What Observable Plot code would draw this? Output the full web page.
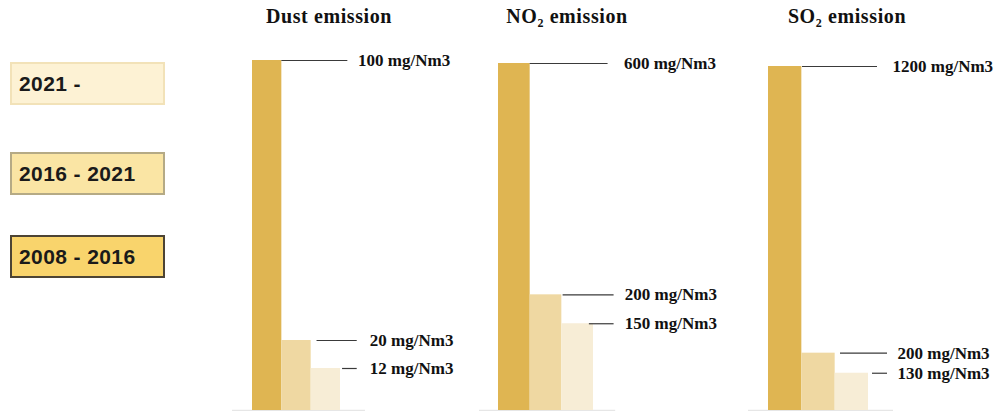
<!DOCTYPE html>
<html>
<head>
<meta charset="utf-8">
<script src="https://cdn.jsdelivr.net/npm/d3@7"></script>
<script src="https://cdn.jsdelivr.net/npm/@observablehq/plot@0.6"></script>
<style>
  html, body { margin: 0; padding: 0; background: #fff; }
  #root { position: relative; width: 999px; height: 411px; overflow: hidden; }
  .legend-box { position: absolute; left: 10px; width: 155px; box-sizing: border-box;
    font-family: "Liberation Sans", Arial, sans-serif; font-weight: bold; font-size: 21px;
    color: #1a1a1a; display: flex; align-items: center; padding-left: 7px; letter-spacing: 0.4px; }
  .title { position: absolute; top: 5px; font-family: "Liberation Serif", "Times New Roman", serif;
    font-weight: bold; font-size: 20px; color: #111; letter-spacing: 0.6px; transform: translateX(-50%); white-space: nowrap; }
  .title sub { font-size: 12px; vertical-align: -4px; }
</style>
</head>
<body>
<div id="root"></div>
<script>
// ---- data ----
const periods = ["2008 - 2016", "2016 - 2021", "2021 -"];
const legendOrder = ["2021 -", "2016 - 2021", "2008 - 2016"];
const pollutants = ["Dust", "NO2", "SO2"];
const dustValues = [100, 20, 12];
const no2Values = [600, 200, 150];
const so2Values = [1200, 200, 130];
const unit = "mg/Nm3";

// ---- styles ----
const barColors = ["#dfb552", "#efd8a2", "#f7edd6"];
const legendFill = {"2021 -": "#fdf2d4", "2016 - 2021": "#fae5a4", "2008 - 2016": "#f9d46c"};
const legendBorder = {"2021 -": "#f2e2b8", "2016 - 2021": "#b5aa85", "2008 - 2016": "#4d4434"};
const legendTop = {"2021 -": 62, "2016 - 2021": 152, "2008 - 2016": 235};

const root = document.getElementById("root");

// legend
legendOrder.forEach(p => {
  const d = document.createElement("div");
  d.className = "legend-box";
  d.style.top = legendTop[p] + "px";
  d.style.height = "43px";
  d.style.background = legendFill[p];
  d.style.border = "2px solid " + legendBorder[p];
  d.textContent = p;
  root.appendChild(d);
});

// panel layouts (pixel placement in x-units of one bar width)
const layouts = {
  Dust: {values: dustValues, left: 200, width: 270, ml: 52, mr: 130, mt: 20, titleX: 329,
         title: "Dust emission",
         base: [-0.68, 3.85], lineStart: [1, 2.2, 3.07], lineEnd: [3.25, 3.57, 3.57], labelX: [3.6, 4.0, 4.0]},
  NO2: {values: no2Values, left: 470, width: 270, ml: 28, mr: 147, mt: 23, titleX: 567,
        title: "NO<sub>2</sub> emission",
        base: [-0.6, 3.7], lineStart: [1, 2.04, 2.87], lineEnd: [3.46, 3.65, 3.65], labelX: [3.96, 3.99, 3.99]},
  SO2: {values: so2Values, left: 740, width: 259, ml: 28, mr: 131, mt: 26, titleX: 847,
        title: "SO<sub>2</sub> emission",
        base: [-0.6, 3.75], lineStart: [1.02, 2.16, 3.12], lineEnd: [3.27, 3.57, 3.57], labelX: [3.72, 3.87, 3.87]}
};

pollutants.forEach(name => {
  const L = layouts[name];
  const data = L.values.map((v, i) => ({i, period: periods[i], value: v}));

  const t = document.createElement("div");
  t.className = "title";
  t.style.left = L.titleX + "px";
  t.innerHTML = L.title;
  root.appendChild(t);

  const chart = Plot.plot({
    width: L.width, height: 371,
    marginLeft: L.ml, marginRight: L.mr, marginTop: L.mt, marginBottom: 1,
    x: {domain: [0, 3], axis: null},
    y: {domain: [0, d3.max(L.values)], axis: null},
    color: {domain: periods, range: barColors},
    style: {background: "transparent", overflow: "visible"},
    marks: [
      Plot.ruleY([0], {x1: L.base[0], x2: L.base[1], stroke: "#e6e6e6", strokeWidth: 1.5}),
      Plot.rectY(data, {x1: d => d.i, x2: d => d.i + 1, y: "value", fill: "period"}),
      Plot.ruleY(data, {y: "value", x1: d => L.lineStart[d.i], x2: d => L.lineEnd[d.i], stroke: "#3a3a3a", strokeWidth: 1.2}),
      Plot.text(data, {y: "value", x: d => L.labelX[d.i], text: d => `${d.value} ${unit}`,
        textAnchor: "start", fill: "#111", fontSize: 17, fontWeight: "bold",
        fontFamily: "Liberation Serif, Times New Roman, serif", style: "letter-spacing:0.2px"})
    ]
  });
  chart.style.position = "absolute";
  chart.style.top = "40px";
  chart.style.left = L.left + "px";
  root.appendChild(chart);
});
</script>
</body>
</html>
